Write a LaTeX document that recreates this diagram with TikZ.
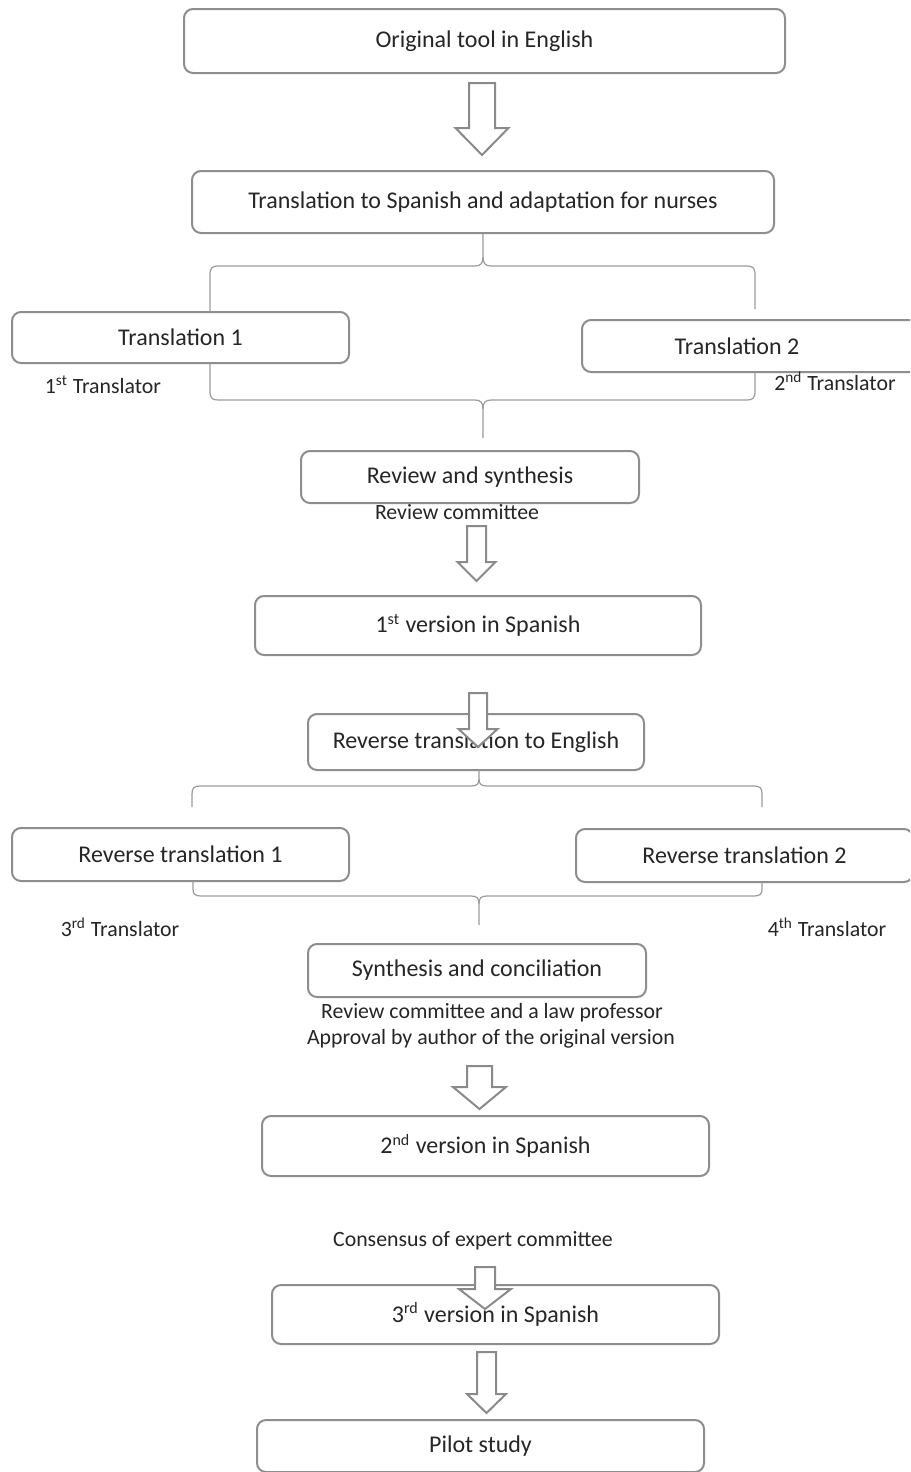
\documentclass[tikz,border=0pt]{standalone}
\usepackage{fontspec}
\setmainfont{Carlito}
\definecolor{boxgray}{HTML}{8E8E8E}
\definecolor{bracegray}{HTML}{9C9C9C}
\definecolor{arrowgray}{HTML}{8A8A8A}
\definecolor{txt}{HTML}{262626}
\newcommand\blkarrow[6]{%
  \draw[blk] (#1-#2,#4) -- (#1+#2,#4) -- (#1+#2,#5) -- (#1+#3,#5) -- (#1,#6)
    -- (#1-#3,#5) -- (#1-#2,#5) -- cycle;}
\begin{document}
\begin{tikzpicture}[x=0.5pt,y=-0.5pt,
  box/.style={draw=boxgray, line width=1pt, rounded corners=4.5pt, inner sep=0pt,
    font=\fontsize{12}{14}\selectfont, text=txt},
  lbl/.style={inner sep=0pt, font=\fontsize{10.9}{13}\selectfont, text=txt},
  brace/.style={draw=bracegray, line width=0.6pt},
  blk/.style={draw=arrowgray, line width=1pt, fill=white, line join=miter}]
\useasboundingbox (0,0) rectangle (910,1472);
\clip (0,0) rectangle (910,1472);
\fill[white] (0,0) rectangle (910,1472);

% boxes
\node[box, minimum width=300.5pt, minimum height=32pt] (b1) at (484.5,41) {Original tool in English};
\node[box, minimum width=291pt, minimum height=31pt] (b2) at (483,202) {Translation to Spanish and adaptation for nurses};
\node[box, minimum width=168.5pt, minimum height=25.5pt] (t1) at (180.5,337.5) {Translation 1};
\node[box, minimum width=168.5pt, minimum height=26pt] (t2) at (750.5,346) {Translation 2\hspace*{13.5pt}};
\node[box, minimum width=169pt, minimum height=26pt] (rs) at (470,477) {Review and synthesis};
\node[box, minimum width=223pt, minimum height=29.5pt] (v1) at (478,625.5) {1\textsuperscript{st} version in Spanish};
\node[box, minimum width=168pt, minimum height=28pt] (rte) at (476,742) {Reverse translation to English};
\node[box, minimum width=168.5pt, minimum height=26.5pt] (rt1) at (180.5,854.5) {Reverse translation 1};
\node[box, minimum width=168.5pt, minimum height=26.5pt] (rt2) at (744.5,855.5) {Reverse translation 2};
\node[box, minimum width=169pt, minimum height=26.5pt] (sc) at (477,970.5) {Synthesis and conciliation};
\node[box, minimum width=223.5pt, minimum height=30pt] (v2) at (485.5,1146) {2\textsuperscript{nd} version in Spanish};
\node[box, minimum width=223.5pt, minimum height=29.5pt] (v3) at (495.5,1314.5) {3\textsuperscript{rd} version in Spanish};
\node[box, minimum width=223.5pt, minimum height=26pt] (ps) at (480.5,1446) {Pilot study};

% labels
\node[lbl] (l1) at (103,385) {1\textsuperscript{st} Translator};
\node[lbl] (l2) at (835,381) {2\textsuperscript{nd} Translator};
\node[lbl] (l3) at (457,512) {Review committee};
\node[lbl] (l4) at (120,927) {3\textsuperscript{rd} Translator};
\node[lbl] (l5) at (827,927) {4\textsuperscript{th} Translator};
\node[lbl] (l6) at (492,1013) {Review committee and a law professor};
\node[lbl] (l7) at (491,1039) {Approval by author of the original version};
\node[lbl] (l8) at (473,1241) {Consensus of expert committee};

% braces
\coordinate (k1) at (483,438);
\coordinate (k2) at (479,925);
\draw[brace] (b2.south) -- (483,257) .. controls (483,263) and (481,266) .. (475,266) -- (218,266)
  .. controls (212,266) and (210,268) .. (210,275) -- (210,311);
\draw[brace] (483,257) .. controls (483,263) and (485,266) .. (491,266) -- (747,266)
  .. controls (753,266) and (755,268) .. (755,275) -- (755,309);
\draw[brace] (210,363) -- (210,391) .. controls (210,398) and (212,400) .. (218,400) -- (475,400)
  .. controls (481,400) and (483,403) .. (483,409) -- (k1);
\draw[brace] (755,372) -- (755,391) .. controls (755,398) and (753,400) .. (747,400) -- (491,400)
  .. controls (485,400) and (483,403) .. (483,409);
\draw[brace] (479,770) -- (479,779) .. controls (479,784) and (477,786) .. (471,786) -- (200,786)
  .. controls (194,786) and (192,788) .. (192,794) -- (192,807);
\draw[brace] (479,779) .. controls (479,784) and (481,786) .. (487,786) -- (754,786)
  .. controls (760,786) and (762,788) .. (762,794) -- (762,807);
\draw[brace] (193,881) -- (193,889) .. controls (193,894) and (195,896) .. (201,896) -- (471,896)
  .. controls (477,896) and (479,898) .. (479,904) -- (k2);
\draw[brace] (762,882) -- (762,889) .. controls (762,894) and (760,896) .. (754,896) -- (487,896)
  .. controls (481,896) and (479,898) .. (479,904);

% block arrows
\blkarrow{482}{13}{26.5}{83}{128}{155}
\blkarrow{476.5}{9.5}{19}{526}{562}{581}
\blkarrow{478}{9}{19.5}{693}{729}{747}
\blkarrow{479.5}{12.5}{26.5}{1066}{1087}{1109}
\blkarrow{485}{10}{26}{1267}{1289}{1309}
\blkarrow{486.5}{9.5}{19.5}{1352}{1394}{1413}
\end{tikzpicture}
\end{document}
